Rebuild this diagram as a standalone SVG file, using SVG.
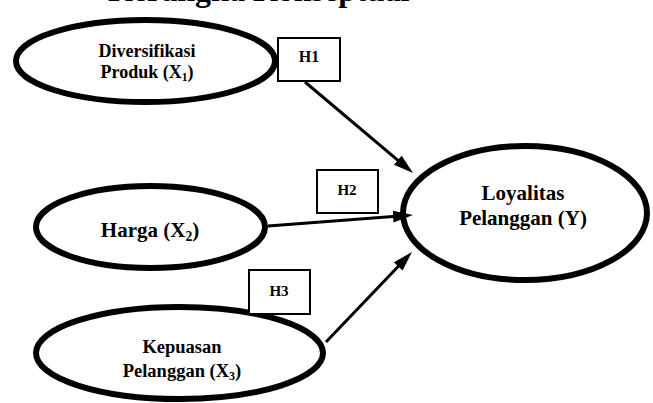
<svg xmlns="http://www.w3.org/2000/svg" width="653" height="403" viewBox="0 0 653 403">
<style>
  .node ellipse { fill: #ffffff; stroke: #000000; stroke-width: 6; }
  .box rect { fill: #ffffff; stroke: #000000; stroke-width: 2; }
  text { font-family: "Liberation Serif", "Times New Roman", serif; font-weight: bold; fill: #000000; text-anchor: middle; }
  .conn line { stroke: #000000; stroke-width: 3; }
  .sub { font-size: 65%; }
</style>
<defs>
  <marker id="arrow" markerUnits="userSpaceOnUse" viewBox="0 0 20 12" refX="10" refY="6" markerWidth="20" markerHeight="12" orient="auto">
    <path d="M0,0 L20,6 L0,12 z" fill="#000000"/>
  </marker>
</defs>
<rect x="0" y="0" width="653" height="403" fill="#ffffff"/>
<text x="108" y="1" style="text-anchor:start;font-size:32px">Kerangka Konseptual</text>

<g id="node-y" class="node">
  <ellipse cx="525" cy="213" rx="122" ry="67"/>
  <text x="523" y="200" font-size="21">Loyalitas</text>
  <text x="523" y="225" font-size="21">Pelanggan (Y)</text>
</g>

<g id="connectors" class="conn">
  <line x1="305" y1="82" x2="405.4" y2="166.6" marker-end="url(#arrow)"/>
  <line x1="268" y1="226" x2="403" y2="215.8" marker-end="url(#arrow)"/>
  <line x1="326" y1="342" x2="405.1" y2="259.2" marker-end="url(#arrow)"/>
</g>

<g id="node-x1" class="node">
  <ellipse cx="145.5" cy="61" rx="129.5" ry="41"/>
  <text x="147" y="57" font-size="18">Diversifikasi</text>
  <text x="147" y="78" font-size="18">Produk (X<tspan class="sub" dy="3">1</tspan><tspan dy="-3">)</tspan></text>
</g>

<g id="node-x2" class="node">
  <ellipse cx="150.5" cy="227" rx="114.5" ry="41"/>
  <text x="150" y="237" font-size="21">Harga (X<tspan class="sub" dy="4">2</tspan><tspan dy="-4">)</tspan></text>
</g>

<g id="node-x3" class="node">
  <ellipse cx="179.5" cy="353" rx="143.5" ry="46"/>
  <text x="182" y="353" font-size="18.5">Kepuasan</text>
  <text x="182" y="377" font-size="18.5">Pelanggan (X<tspan class="sub" dy="3">3</tspan><tspan dy="-3">)</tspan></text>
</g>

<g id="label-h1" class="box">
  <rect x="278" y="38" width="62" height="43"/>
  <text x="309" y="62" font-size="16">H1</text>
</g>
<g id="label-h2" class="box">
  <rect x="317" y="170" width="61" height="43"/>
  <text x="347" y="195" font-size="15">H2</text>
</g>
<g id="label-h3" class="box">
  <rect x="249" y="270" width="61" height="44"/>
  <text x="279" y="296" font-size="15">H3</text>
</g>
</svg>
